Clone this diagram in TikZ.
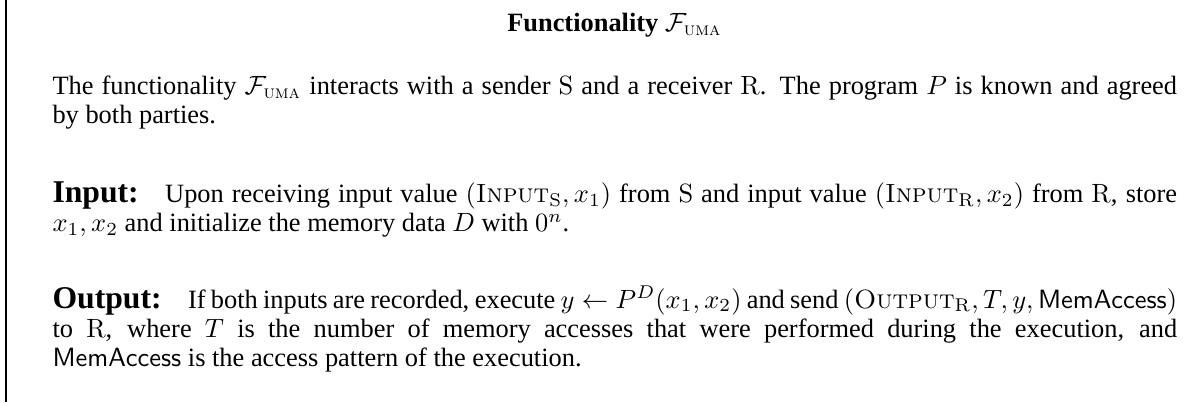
\documentclass[tikz,border=0pt]{standalone}
\usepackage{amsmath, amssymb}
\usepackage[no-math]{fontspec}
\setmainfont{Liberation Serif}
\usepackage{tikz}
\usetikzlibrary{positioning}

% small capitals taken from Latin Modern
\newcommand{\smc}[1]{{\fontfamily{lmr}\mdseries\selectfont\scshape #1}}
\newcommand{\Fuma}{\mathcal{F}_{\text{\smc{uma}}}}
\newcommand{\lbl}[1]{{\large\bfseries #1}\quad}

\begin{document}
\begin{tikzpicture}[x=0.3788pt, y=-0.3788pt,
    para/.style={anchor=base west, inner sep=0pt, text width=426pt, align=justify,
                 font=\fontsize{10pt}{11pt}\selectfont}]
    % Rahmen
    \useasboundingbox (0,0) rectangle (1204,402);
    \coordinate (top) at (6,0);
    \coordinate (bot) at (6,402);
    \draw[line width=0.5pt] (top) -- (bot);

    % Titel
    \node[anchor=base, inner sep=0pt, font=\bfseries] (title) at (614.5,31.7)
        {Functionality $\Fuma$};

    % Text
    \node[para] (intro) at (52,94.3)
        {The functionality $\Fuma$ interacts with a sender $\mathrm{S}$ and a receiver $\mathrm{R}$. The program $P$ is known and agreed\linebreak
         by both parties.};
    \node[para] (inp) at (52,202.7)
        {\lbl{Input:}Upon receiving input value $(\text{\smc{Input}}_{\mathrm{S}}, x_1)$ from $\mathrm{S}$ and input value $(\text{\smc{Input}}_{\mathrm{R}}, x_2)$ from $\mathrm{R}$, store\linebreak
         $x_1, x_2$ and initialize the memory data $D$ with $0^n$.};
    \node[para] (outp) at (52,308)
        {\lbl{Output:}If both inputs are recorded, execute $y \leftarrow P^D(x_1, x_2)$ and send $(\text{\smc{Output}}_{\mathrm{R}}, T, y, \mathsf{MemAccess})$\linebreak
         to $\mathrm{R}$, where $T$ is the number of memory accesses that were performed during the execution, and\linebreak
         $\mathsf{MemAccess}$ is the access pattern of the execution.};
\end{tikzpicture}
\end{document}
